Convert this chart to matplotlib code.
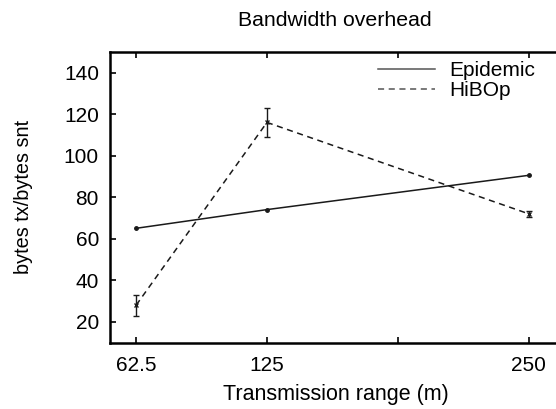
import matplotlib
matplotlib.use("Agg")
import matplotlib.pyplot as plt
from matplotlib.lines import Line2D

plt.rcParams['font.family'] = ['Liberation Sans', 'DejaVu Sans']

ranges = [62.5, 125, 250]
epidemic = [65, 74, 90.5]
hibop = [28, 116, 72]
hibop_err = [5, 7, 1.5]
xticks = [62.5, 125, 187.5, 250]
xticklabels = ["62.5", "125", "", "250"]
yticks = [20, 40, 60, 80, 100, 120, 140]

fig = plt.figure(figsize=(5.56, 4.09), dpi=100)
ax = fig.add_axes([110/556, 66.5/409, 452/556, 290.7/409])

ax.plot(ranges, epidemic, '-', color='#1a1a1a', lw=1.1, marker='o', ms=2.5, label='Epidemic')
ax.errorbar(ranges, hibop, yerr=hibop_err, fmt='--', color='#1a1a1a', lw=1.1,
            marker='x', ms=3.5, mew=1, capsize=2.5, elinewidth=1, capthick=1,
            dashes=(4, 3), label='HiBOp')

ax.set_xlim(50, 266)
ax.set_ylim(10, 150)
ax.set_xticks(xticks)
ax.set_xticklabels(xticklabels)
ax.set_yticks(yticks)
ax.tick_params(direction='in', top=True, right=True, length=4, width=1.2,
               labelsize=15, pad=8)
ax.tick_params(axis='x', pad=10)
for s in ax.spines.values():
    s.set_linewidth(1.8)

ax.set_xlabel('Transmission range (m)', fontsize=15.5, labelpad=6)
ax.set_ylabel('bytes tx/bytes snt', fontsize=14.3, labelpad=22)
fig.text(335/556, 1 - 21/409, 'Bandwidth overhead', ha='center', va='center', fontsize=15.3)

handles = [Line2D([], [], color='#555555', lw=1.1, ls='-'),
           Line2D([], [], color='#555555', lw=1.1, ls='--', dashes=(4, 3))]
ax.legend(handles, ['Epidemic', 'HiBOp'], loc='upper right', frameon=False,
          fontsize=15, handlelength=2.75, handletextpad=0.67, labelspacing=0.05,
          bbox_to_anchor=(0.968, 1.01), borderaxespad=0.2)

fig.savefig('out.png', dpi=100)
